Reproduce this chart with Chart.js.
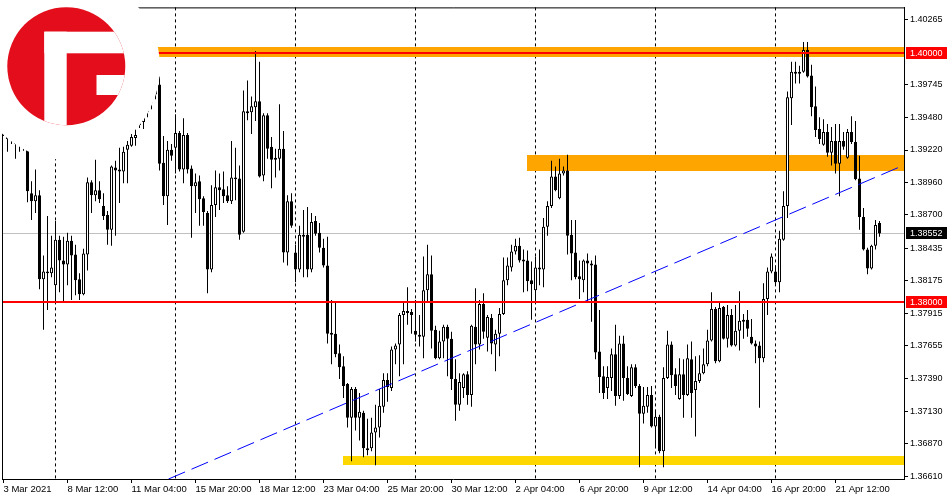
<!DOCTYPE html>
<html><head><meta charset="utf-8">
<style>html,body{margin:0;padding:0;background:#fff;}canvas{display:block;}</style>
<script src="https://cdn.jsdelivr.net/npm/chart.js@4.4.1/dist/chart.umd.min.js"></script>
</head><body>
<canvas id="c" width="950" height="500"></canvas>
<script>
// ---- data (4h candles, index = bar number) ----
const opens = [1.39396,1.39364,1.39301,1.39325,1.39254,1.39269,1.39269,1.38874,1.38810,1.38858,
1.38185,1.38248,1.38233,1.38138,1.38502,1.38335,1.38304,1.38494,1.38383,1.38185,
1.38066,1.38383,1.38961,1.38858,1.38897,1.38771,1.38700,1.38581,1.39079,1.39064,
1.39048,1.39222,1.39254,1.39317,1.39420,1.39444,1.39523,1.39594,1.39665,1.39744,
1.39119,1.38850,1.39222,1.39238,1.39357,1.39064,1.39341,1.39072,1.38929,1.38969,
1.38834,1.38715,1.38264,1.38779,1.38921,1.38905,1.38858,1.38810,1.39000,1.38992,
1.38565,1.39531,1.39523,1.39562,1.39610,1.39016,1.39499,1.39246,1.39159,1.39151,
1.39230,1.38399,1.38810,1.38399,1.38264,1.38541,1.38541,1.38264,1.38652,1.38557,
1.38438,1.38296,1.37758,1.37750,1.37592,1.37489,1.37346,1.37077,1.37306,1.37077,
1.37117,1.36832,1.36832,1.36958,1.36998,1.37164,1.37378,1.37314,1.37623,1.37663,
1.37900,1.37932,1.37924,1.37774,1.37742,1.37726,1.38098,1.38225,1.37781,1.37552,
1.37686,1.37805,1.37710,1.37386,1.37180,1.37314,1.37425,1.37259,1.37805,1.37663,
1.37987,1.37718,1.37876,1.37663,1.37750,1.37908,1.38177,1.38280,1.38407,1.38454,
1.38343,1.38335,1.38177,1.38098,1.38280,1.38264,1.38605,1.38771,1.39008,1.38834,
1.39032,1.39056,1.38541,1.38399,1.38209,1.38177,1.38335,1.38296,1.38304,1.37607,
1.37409,1.37314,1.37394,1.37584,1.37251,1.37671,1.37394,1.37251,1.37481,1.37330,
1.37109,1.37164,1.37259,1.37006,1.37085,1.36808,1.37394,1.37663,1.37425,1.37227,
1.37425,1.37259,1.37544,1.37299,1.37370,1.37433,1.37504,1.37694,1.37948,1.37528,
1.37963,1.37710,1.37900,1.37655,1.37774,1.37861,1.37861,1.37726,1.37671,1.37655,
1.37552,1.38027,1.38248,1.38248,1.38161,1.38502,1.38771,1.39634,1.39847,1.39831,
1.39847,1.40021,1.39816,1.39570,1.39388,1.39262,1.39364,1.39198,1.39293,1.39111,
1.39293,1.39159,1.39364,1.39285,1.38992,1.38684,1.38423,1.38272,1.38454,1.38636];
const highs = [1.39428,1.39388,1.39364,1.39349,1.39309,1.39301,1.39285,1.38969,1.39064,1.38897,
1.38375,1.38692,1.38533,1.38652,1.38533,1.38525,1.38557,1.38533,1.38462,1.38233,
1.38430,1.39000,1.38977,1.39143,1.38969,1.38874,1.38731,1.39095,1.39135,1.39238,
1.39246,1.39293,1.39349,1.39388,1.39491,1.39546,1.39626,1.39681,1.39744,1.39808,
1.39333,1.39293,1.39269,1.39507,1.39372,1.39475,1.39357,1.39095,1.39032,1.39016,
1.38850,1.38731,1.38937,1.39056,1.39032,1.39048,1.38929,1.39293,1.39238,1.39095,
1.39697,1.39776,1.39649,1.40013,1.39926,1.39515,1.39515,1.39325,1.39230,1.39586,
1.39372,1.38858,1.38874,1.38462,1.38613,1.38739,1.38763,1.38715,1.38692,1.38636,
1.38510,1.38525,1.38019,1.37995,1.37663,1.37568,1.37354,1.37322,1.37322,1.37275,
1.37132,1.37069,1.37077,1.37180,1.37306,1.37433,1.37433,1.37647,1.37671,1.37916,
1.38003,1.38122,1.37948,1.38019,1.37900,1.38367,1.38462,1.38375,1.37813,1.37774,
1.37821,1.37821,1.37766,1.37544,1.37433,1.37433,1.37449,1.37821,1.38114,1.38019,
1.38074,1.37900,1.37908,1.37781,1.37956,1.38359,1.38359,1.38462,1.38510,1.38518,
1.38423,1.38415,1.38328,1.38367,1.38423,1.38676,1.38810,1.39135,1.39087,1.39151,
1.39087,1.39182,1.38660,1.38660,1.38335,1.38343,1.38391,1.38335,1.38375,1.37940,
1.37489,1.37489,1.37631,1.37821,1.37734,1.37734,1.37489,1.37504,1.37504,1.37346,
1.37322,1.37322,1.37330,1.37140,1.37101,1.37481,1.37774,1.37686,1.37473,1.37552,
1.37544,1.37663,1.37686,1.37568,1.37576,1.37631,1.37781,1.38082,1.37963,1.37995,
1.37971,1.37979,1.37948,1.37979,1.38090,1.37908,1.37940,1.37868,1.37694,1.37686,
1.38153,1.38280,1.38391,1.38296,1.38573,1.38890,1.39689,1.39926,1.39926,1.39895,
1.40085,1.40085,1.39903,1.39729,1.39483,1.39467,1.39428,1.39404,1.39428,1.39428,
1.39364,1.39388,1.39491,1.39452,1.39175,1.38755,1.38438,1.38462,1.38660,1.38652];
const lows = [1.39333,1.39206,1.39269,1.39151,1.39206,1.39214,1.38802,1.38660,1.38715,1.38106,
1.37781,1.37940,1.38201,1.38011,1.38082,1.38011,1.38138,1.38019,1.38058,1.38019,
1.38058,1.38256,1.38715,1.38810,1.38795,1.38660,1.38462,1.38454,1.38533,1.38795,
1.38953,1.38953,1.39246,1.39254,1.39396,1.39388,1.39483,1.39546,1.39626,1.39056,
1.38779,1.38620,1.39135,1.39032,1.39048,1.38953,1.39032,1.38518,1.38715,1.38613,
1.38613,1.38074,1.38241,1.38684,1.38739,1.38795,1.38795,1.38787,1.38818,1.38502,
1.38557,1.39459,1.39349,1.39452,1.39000,1.38969,1.39151,1.38913,1.39000,1.39056,
1.38320,1.38296,1.38597,1.38161,1.38241,1.38201,1.38201,1.38241,1.38533,1.38399,
1.38280,1.37671,1.37504,1.37560,1.37386,1.37235,1.36998,1.36729,1.36974,1.36895,
1.36760,1.36776,1.36808,1.36697,1.36919,1.37117,1.37204,1.37291,1.37504,1.37409,
1.37504,1.37821,1.37750,1.37686,1.37647,1.37552,1.38011,1.37631,1.37544,1.37544,
1.37552,1.37409,1.37299,1.37053,1.37132,1.37235,1.37180,1.37164,1.37504,1.37623,
1.37710,1.37607,1.37584,1.37449,1.37568,1.37900,1.38138,1.38248,1.38383,1.38320,
1.38082,1.38090,1.37861,1.38003,1.38138,1.38122,1.38533,1.38755,1.38890,1.38826,
1.39016,1.38383,1.38177,1.38185,1.38027,1.38082,1.38003,1.37845,1.37544,1.37275,
1.37227,1.37227,1.37291,1.37172,1.37227,1.37212,1.37259,1.37243,1.37314,1.36681,
1.37030,1.37117,1.36998,1.36832,1.36792,1.36681,1.37386,1.37314,1.37259,1.37220,
1.37077,1.37251,1.37077,1.36927,1.37354,1.37425,1.37489,1.37686,1.37512,1.37520,
1.37702,1.37639,1.37647,1.37647,1.37615,1.37710,1.37726,1.37663,1.37512,1.37156,
1.37520,1.37900,1.38233,1.38138,1.38082,1.38494,1.38676,1.39420,1.39752,1.39752,
1.39839,1.39800,1.39491,1.39325,1.39269,1.39254,1.39167,1.39095,1.39032,1.38850,
1.39222,1.39151,1.39269,1.38977,1.38581,1.38415,1.38225,1.38264,1.38423,1.38525];
const closes = [1.39349,1.39309,1.39349,1.39269,1.39285,1.39238,1.38890,1.38810,1.38858,1.38185,
1.38248,1.38233,1.38280,1.38502,1.38335,1.38304,1.38494,1.38375,1.38177,1.38066,
1.38391,1.38961,1.38858,1.38897,1.38826,1.38692,1.38581,1.39087,1.39056,1.39048,
1.39206,1.39262,1.39325,1.39341,1.39459,1.39507,1.39586,1.39649,1.39713,1.39111,
1.38850,1.39222,1.39175,1.39357,1.39064,1.39341,1.39064,1.38929,1.38961,1.38826,
1.38723,1.38264,1.38779,1.38921,1.38897,1.38850,1.38810,1.39000,1.38985,1.38541,
1.39531,1.39515,1.39570,1.39610,1.39008,1.39499,1.39230,1.39143,1.39143,1.39230,
1.38399,1.38810,1.38613,1.38264,1.38541,1.38525,1.38264,1.38644,1.38549,1.38438,
1.38296,1.37750,1.37742,1.37584,1.37481,1.37330,1.37077,1.37306,1.37077,1.37125,
1.36832,1.36816,1.36958,1.36998,1.37172,1.37378,1.37322,1.37623,1.37655,1.37900,
1.37932,1.37916,1.37900,1.37742,1.37726,1.38098,1.38225,1.37774,1.37552,1.37686,
1.37805,1.37710,1.37386,1.37180,1.37362,1.37425,1.37259,1.37813,1.37663,1.37987,
1.37766,1.37884,1.37671,1.37750,1.37908,1.38177,1.38296,1.38407,1.38454,1.38335,
1.38328,1.38169,1.38146,1.38280,1.38264,1.38605,1.38771,1.39008,1.38897,1.39032,
1.39056,1.38533,1.38391,1.38201,1.38185,1.38335,1.38312,1.38312,1.37599,1.37402,
1.37275,1.37402,1.37584,1.37251,1.37671,1.37394,1.37267,1.37481,1.37330,1.37109,
1.37172,1.37259,1.37006,1.37085,1.36808,1.37394,1.37663,1.37417,1.37330,1.37425,
1.37259,1.37552,1.37275,1.37370,1.37433,1.37504,1.37694,1.37948,1.37528,1.37956,
1.37710,1.37900,1.37655,1.37774,1.37853,1.37845,1.37789,1.37671,1.37647,1.37552,
1.38027,1.38248,1.38367,1.38161,1.38510,1.38771,1.39642,1.39847,1.39831,1.39847,
1.40021,1.39808,1.39562,1.39380,1.39309,1.39364,1.39198,1.39293,1.39111,1.39293,
1.39246,1.39364,1.39285,1.38985,1.38684,1.38423,1.38272,1.38454,1.38620,1.38552];

const xTickIndex = [0,16,32,48,64,80,96,112,128,144,160,176,192,208];
const xTickLabels = ['3 Mar 2021','8 Mar 12:00','11 Mar 04:00','15 Mar 20:00','18 Mar 12:00','23 Mar 04:00','25 Mar 20:00','30 Mar 12:00','2 Apr 04:00','6 Apr 20:00','9 Apr 12:00','14 Apr 04:00','16 Apr 20:00','21 Apr 12:00'];
const yTickValues = [1.40265,1.39745,1.39480,1.39220,1.38960,1.38700,1.38435,1.38175,1.37915,1.37655,1.37390,1.37130,1.36870,1.36610];
const timeGridIndex = [12.95,42.95,72.95,102.95,132.95,162.95,192.95];

const trendPoints = [{x:41.25, y:1.36586},{x:225.125, y:1.39099}];
const zoneFrom = [30, 130.875, 84.95];
const zoneTop = [1.40047, 1.39182, 1.36768];
const zoneBottom = [1.39966, 1.39048, 1.36697];
const zoneColor = ['#FFA500','#FFA500','#FFD700'];
const levelValues = [1.40000, 1.38000];
const levelFrom = [30, -0.375];
const currentPrice = 1.38552;
const tagValues = [1.40000, 1.38552, 1.38000];
const tagColors = ['#FF0000','#000000','#FF0000'];

const X_MIN = -0.375, X_MAX = 225.125;
const Y_MIN = 1.365862, Y_MAX = 1.403617;

const wickData = highs.map((h,i)=>({x:i, y:[lows[i], h]}));
const bodyData = opens.map((o,i)=>({x:i, y:[Math.min(o,closes[i]), Math.max(o,closes[i])]}));
const bodyFill = opens.map((o,i)=> closes[i] >= o ? '#FFFFFF' : '#000000');

const FONT = 'Liberation Sans';

const overlay = {
  id:'overlay',
  beforeDatasetsDraw(chart){
    const {ctx, chartArea:a, scales:{x,y}} = chart;
    ctx.save();
    ctx.beginPath(); ctx.rect(a.left, a.top, a.right-a.left, a.bottom-a.top); ctx.clip();
    for (let i=0;i<zoneFrom.length;i++){
      const x1 = x.getPixelForValue(zoneFrom[i]);
      const y1 = y.getPixelForValue(zoneTop[i]);
      const y2 = y.getPixelForValue(zoneBottom[i]);
      ctx.fillStyle = zoneColor[i];
      ctx.fillRect(Math.round(x1), Math.round(y1), a.right-Math.round(x1), Math.round(y2)-Math.round(y1));
    }
    const cy = Math.round(y.getPixelForValue(currentPrice)) + 0.5;
    ctx.strokeStyle = '#C0C0C0'; ctx.lineWidth = 1;
    ctx.beginPath(); ctx.moveTo(a.left, cy); ctx.lineTo(a.right, cy); ctx.stroke();
    ctx.restore();
  },
  afterDatasetsDraw(chart){
    const {ctx, chartArea:a, scales:{x,y}} = chart;
    ctx.save();
    ctx.beginPath(); ctx.rect(a.left, a.top, a.right-a.left, a.bottom-a.top); ctx.clip();
    ctx.strokeStyle = '#FF0000'; ctx.lineWidth = 2;
    for (let i=0;i<levelValues.length;i++){
      const ly = Math.round(y.getPixelForValue(levelValues[i]));
      ctx.beginPath(); ctx.moveTo(x.getPixelForValue(levelFrom[i]), ly); ctx.lineTo(a.right, ly); ctx.stroke();
    }
    ctx.restore();
    // frame: left and top edges
    ctx.save();
    ctx.strokeStyle = '#000'; ctx.lineWidth = 1;
    ctx.beginPath();
    ctx.moveTo(a.left+0.5, a.bottom); ctx.lineTo(a.left+0.5, a.top+0.5); ctx.lineTo(a.right+1, a.top+0.5);
    ctx.stroke();
    ctx.restore();
  },
  afterDraw(chart){
    const {ctx, scales:{y}} = chart;
    ctx.save();
    ctx.font = '9px "' + FONT + '"';
    ctx.textBaseline = 'middle'; ctx.textAlign = 'left';
    for (let i=0;i<tagValues.length;i++){
      const ty = Math.round(y.getPixelForValue(tagValues[i]));
      ctx.fillStyle = tagColors[i];
      ctx.fillRect(906, ty-6, 41, 12);
      ctx.fillStyle = '#FFFFFF';
      ctx.fillText(tagValues[i].toFixed(5), 910, ty+0.5);
    }
    // logo with its white backing
    ctx.fillStyle = '#FFFFFF';
    ctx.beginPath(); ctx.arc(67, 67, 93, 0, Math.PI*2); ctx.fill();
    ctx.save();
    ctx.beginPath(); ctx.arc(66.3, 66.3, 59, 0, Math.PI*2); ctx.clip();
    ctx.fillStyle = '#E30D1B';
    ctx.fillRect(0, 0, 140, 140);
    ctx.fillStyle = '#FFFFFF';
    ctx.fillRect(44.3, 31.7, 22.4, 100);
    ctx.fillRect(44.3, 31.7, 100, 21.6);
    ctx.fillRect(96.5, 75, 50, 20);
    ctx.restore();
    ctx.restore();
  }
};

new Chart(document.getElementById('c'), {
  type:'bar',
  data:{
    datasets:[
      {type:'line', data:trendPoints, borderColor:'#0000FF', borderWidth:1, borderDash:[18,7], pointRadius:0, fill:false, tension:0, xAxisID:'x', yAxisID:'y'},
      {type:'bar', data:bodyData, backgroundColor:bodyFill, borderColor:'#000000', borderWidth:1, borderSkipped:false, barThickness:3, grouped:false, inflateAmount:0, xAxisID:'x', yAxisID:'y'},
      {type:'bar', data:wickData, backgroundColor:'#000000', borderWidth:0, barThickness:1, grouped:false, inflateAmount:0, xAxisID:'x', yAxisID:'y'}
    ]
  },
  options:{
    responsive:false, animation:false, devicePixelRatio:1,
    layout:{padding:{left:2, top:2, right:0, bottom:0}},
    plugins:{legend:{display:false}, tooltip:{enabled:false}},
    scales:{
      x:{type:'linear', position:'bottom', min:X_MIN, max:X_MAX, offset:false,
        afterFit:s=>{s.height=21;},
        afterBuildTicks:s=>{s.ticks = xTickIndex.map(v=>({value:v}));},
        ticks:{autoSkip:false, maxRotation:0, minRotation:0, align:'start', padding:1, color:'#000',
          font:{family:FONT, size:9.5}, callback:(v,i)=>xTickLabels[i]},
        grid:{display:true, drawOnChartArea:false, drawTicks:true, tickLength:4, color:'#000', offset:false},
        border:{display:true, color:'#000', width:1}},
      xg:{type:'linear', position:'bottom', min:X_MIN, max:X_MAX, offset:false,
        afterFit:s=>{s.height=0;},
        afterBuildTicks:s=>{s.ticks = timeGridIndex.map(v=>({value:v}));},
        ticks:{display:false},
        grid:{display:true, drawOnChartArea:true, drawTicks:false, color:'#000', lineWidth:1, offset:false},
        border:{display:false, dash:[3,3]}},
      y:{type:'linear', position:'right', min:Y_MIN, max:Y_MAX, beginAtZero:false,
        afterFit:s=>{s.width=46;},
        afterBuildTicks:s=>{s.ticks = yTickValues.map(v=>({value:v}));},
        ticks:{color:'#000', padding:2, font:{family:FONT, size:9}, callback:v=>v.toFixed(5)},
        grid:{display:true, drawOnChartArea:false, drawTicks:true, tickLength:4, color:'#000'},
        border:{display:true, color:'#000', width:1}}
    }
  },
  plugins:[overlay]
});
</script>
</body></html>
